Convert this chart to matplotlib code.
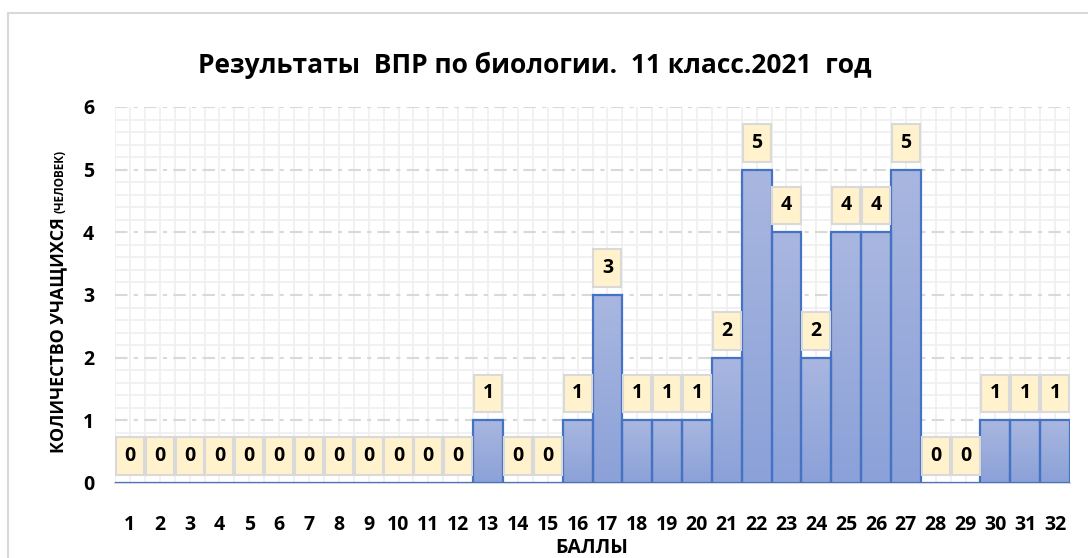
import numpy as np
import matplotlib.pyplot as plt
from matplotlib.patches import Rectangle
from matplotlib.colors import LinearSegmentedColormap

# data
scores = list(range(1, 33))
counts = [0, 0, 0, 0, 0, 0, 0, 0, 0, 0, 0, 0, 1, 0, 0, 1,
          3, 1, 1, 1, 2, 5, 4, 2, 4, 4, 5, 0, 0, 1, 1, 1]

title = "Результаты  ВПР по биологии.  11 класс.2021  год"
ylabel_main = "КОЛИЧЕСТВО УЧАЩИХСЯ"
ylabel_small = "(ЧЕЛОВЕК)"
xlabel = "БАЛЛЫ"

plt.rcParams['font.family'] = ['Open Sans', 'DejaVu Sans']
plt.rcParams['font.weight'] = 'bold'

W, H = 1088, 558
fig = plt.figure(figsize=(W / 100, H / 100), dpi=100)

# outer chart border (right and bottom sides fall outside the image)
fig.patches.append(Rectangle((8 / W, 1 - 570 / H), 1100 / W, 557 / H,
                             transform=fig.transFigure, fill=False,
                             edgecolor='#D9D9D9', lw=1.5, zorder=0))

ax = fig.add_axes([115 / W, 1 - 483 / H, 955 / W, 376 / H])

# grid: minor solid, major dashed
ax.set_yticks(np.arange(0, 7, 1))
ax.set_yticks(np.arange(0, 6.01, 0.2), minor=True)
ax.set_xticks(scores)
ax.set_xticks(np.arange(0.5, 33, 0.5), minor=True)
ax.grid(which='minor', color='#EFEFEF', lw=1.2, zorder=0)
ax.grid(which='major', axis='y', color='#D9D9D9', lw=1.5,
        linestyle=(0, (6, 3, 2, 3)), zorder=0.5)
ax.grid(which='major', axis='x', color='#EFEFEF', lw=1.2, zorder=0)
ax.tick_params(which='both', length=0)
ax.tick_params(axis='x', pad=23, labelsize=14)
ax.tick_params(axis='y', pad=15, labelsize=14)
for s in ['left', 'right', 'top']:
    ax.spines[s].set_visible(False)
ax.spines['bottom'].set_color('#D9D9D9')
ax.spines['bottom'].set_linewidth(1.5)

# bars with a soft vertical gradient
cmap = LinearSegmentedColormap.from_list('g', ['#8BA1D8', '#A9B7E0'])
grad = np.linspace(0, 1, 100).reshape(-1, 1)
bars = ax.bar(scores, counts, width=1.0, color='none',
              edgecolor='#4472C4', lw=1.6, zorder=3)
for b, v in zip(bars, counts):
    if v == 0:
        continue
    im = ax.imshow(grad, cmap=cmap, origin='lower', aspect='auto',
                   extent=(b.get_x(), b.get_x() + b.get_width(), 0, v),
                   zorder=2)
    im.set_clip_path(b)
ax.set_xlim(0.5, 32.5)
ax.set_ylim(0, 6)

# value labels in boxes
for x, v in zip(scores, counts):
    ax.add_patch(Rectangle((x - 0.47, v + 0.13), 0.94, 0.6,
                           facecolor='#FFF2CC', edgecolor='#D9D9D9',
                           lw=1.5, zorder=4))
    ax.text(x, v + 0.43, str(v), ha='center', va='center',
            fontsize=14, fontweight='bold', zorder=5)

fig.text(535 / W, 1 - 65 / H, title, ha='center', va='center',
         fontsize=19, fontweight='bold')
fig.text(592 / W, 1 - 548 / H, xlabel, ha='center', va='center',
         fontsize=14, fontweight='bold')
t_main = fig.text(58 / W, 1 - 453 / H, ylabel_main, rotation=90,
                  ha='center', va='bottom', fontsize=12.8, fontweight='bold')
fig.get_figure().canvas.draw()
ax.annotate(ylabel_small, xy=(0.62, 1), xycoords=t_main,
            xytext=(0, 3), textcoords='offset points', rotation=90,
            ha='center', va='bottom', fontsize=8.5, fontweight='bold',
            annotation_clip=False)

fig.savefig('out.png', dpi=100)
